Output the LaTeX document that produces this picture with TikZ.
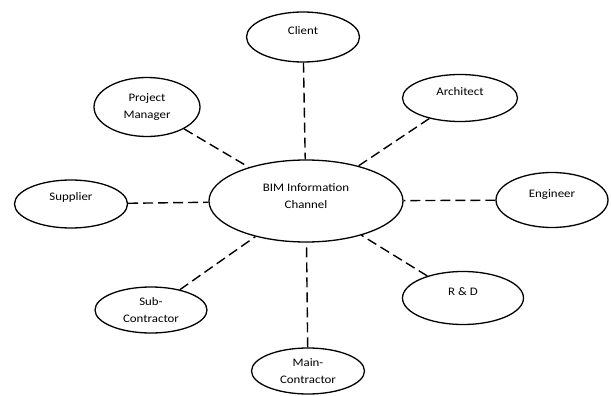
\documentclass[tikz,border=0pt]{standalone}
\usepackage{fontspec}
\setmainfont{Carlito}[FakeStretch=1.12]
\usetikzlibrary{shapes.geometric}

\tikzset{
    party/.style={draw, line width=1.3pt, ellipse, inner sep=0pt, align=center, font=\fontsize{11.5}{17}\selectfont},
    oneline/.style={text height=8pt, text depth=13pt},
    link/.style={line width=1.4pt, dash pattern=on 10pt off 5pt}
}

\begin{document}
\begin{tikzpicture}[x=1pt, y=-1pt]
        \useasboundingbox (0,0) rectangle (611,396);
        % centre
        \node[party, minimum width=194pt, minimum height=82pt, text depth=10pt] (bim) at (306,201) {BIM Information\\Channel};
        % stakeholders
        \node[party, oneline, minimum width=113pt, minimum height=50pt] (client) at (303,37) {Client};
        \node[party, minimum width=106pt, minimum height=59pt] (pm) at (147,107) {Project\\Manager};
        \node[party, oneline, minimum width=115pt, minimum height=47pt] (arch) at (460,98) {Architect};
        \node[party, oneline, minimum width=113pt, minimum height=48pt, text depth=15pt] (supp) at (71,204) {Supplier};
        \node[party, oneline, minimum width=112pt, minimum height=55pt] (eng) at (552,200) {Engineer};
        \node[party, minimum width=112pt, minimum height=46pt] (sub) at (151,310) {Sub-\\Contractor};
        \node[party, oneline, minimum width=121pt, minimum height=53pt] (rd) at (463,298) {R \& D};
        \node[party, minimum width=113pt, minimum height=46pt] (main) at (308,371) {Main-\\Contractor};
        % links
        \draw[link] (client) -- (bim);
        \draw[link] (pm) -- (bim);
        \draw[link] (arch) -- (bim);
        \draw[link] (supp) -- (bim);
        \draw[link] (eng) -- (bim);
        \draw[link] (sub) -- (bim);
        \draw[link] (rd) -- (bim);
        \draw[link] (main) -- (bim);
    \end{tikzpicture}
\end{document}
